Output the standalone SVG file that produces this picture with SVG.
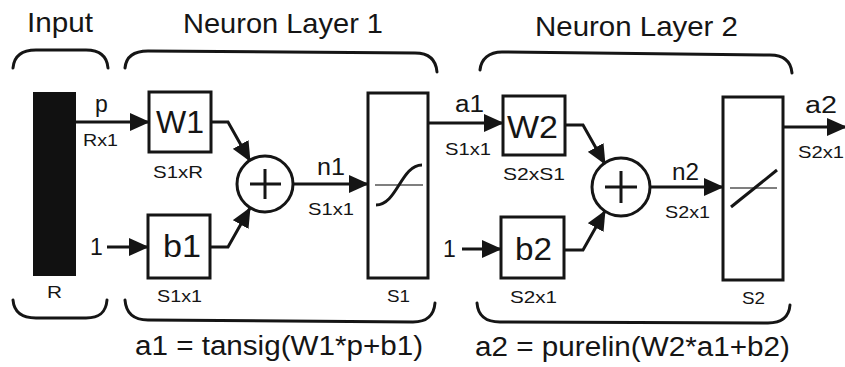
<svg xmlns="http://www.w3.org/2000/svg" width="845" height="367" viewBox="0 0 845 367">
<defs>
<style>
text{font-family:"Liberation Sans",Arial,sans-serif;fill:#151515}
.t{font-size:28px}
.f{font-size:27px}
.s{font-size:17px}
.m{font-size:23px}
.b{font-size:32px}
.box{fill:#fff;stroke:#151515;stroke-width:3}
.ln{fill:none;stroke:#151515;stroke-width:3}
.br{fill:none;stroke:#151515;stroke-width:3;stroke-linecap:round}
.thin{stroke:#555;stroke-width:1.3}
.arr{fill:none;stroke:#151515;stroke-width:3;marker-end:url(#ah)}
</style>
<marker id="ah" viewBox="0 0 20 18" refX="19" refY="9" markerWidth="20" markerHeight="18" markerUnits="userSpaceOnUse" orient="auto">
<path d="M0,0 L20,9 L0,18 Z" fill="#151515"/>
</marker>
</defs>
<rect width="845" height="367" fill="#fff"/>

<g id="brackets">
<path class="br" d="M13,68 C14,56 22,50 36,50 L86,50 C100,50 107,56 108,68"/>
<path class="br" d="M125,68 C126,57 134,51 148,51 L415,53 C429,53 436,60 437,72"/>
<path class="br" d="M480,70 C481,59 489,52 502,52 L770,55 C784,55 791,62 792,73"/>
<path class="br" d="M13,300 C14,312 22,318 36,318 L86,318 C100,318 106,312 107,300"/>
<path class="br" d="M125,300 C126,313 134,320 148,320 L413,322 C427,322 434,315 435,303"/>
<path class="br" d="M477,303 C478,316 486,322 500,322 L768,323 C782,323 789,317 790,305"/>
</g>

<g id="titles">
<text class="t" x="27" y="32" textLength="66" lengthAdjust="spacingAndGlyphs">Input</text>
<text class="t" x="183" y="33" textLength="200" lengthAdjust="spacingAndGlyphs">Neuron Layer 1</text>
<text class="t" x="535" y="36" textLength="203" lengthAdjust="spacingAndGlyphs">Neuron Layer 2</text>
<text class="f" x="135" y="355" textLength="288" lengthAdjust="spacingAndGlyphs">a1 = tansig(W1*p+b1)</text>
<text class="f" x="475" y="356" textLength="315" lengthAdjust="spacingAndGlyphs">a2 = purelin(W2*a1+b2)</text>
</g>

<g id="input">
<rect x="33" y="92" width="43" height="184" fill="#111"/>
<text class="s" x="47" y="298" textLength="15" lengthAdjust="spacingAndGlyphs">R</text>
</g>

<g id="W1">
<rect class="box" x="149" y="92" width="62" height="60"/>
<text class="b" x="156" y="133" textLength="48" lengthAdjust="spacingAndGlyphs">W1</text>
<text class="s" x="153" y="178" textLength="50" lengthAdjust="spacingAndGlyphs">S1xR</text>
</g>

<g id="b1">
<rect class="box" x="148" y="215" width="62" height="63"/>
<text class="b" x="163" y="257" textLength="38" lengthAdjust="spacingAndGlyphs">b1</text>
<text class="s" x="157" y="302" textLength="45" lengthAdjust="spacingAndGlyphs">S1x1</text>
</g>

<g id="sum1">
<circle class="ln" cx="265" cy="184" r="28"/>
<path class="ln" d="M250,184 L281,184 M265,169 L265,199" stroke-width="2"/>
</g>

<g id="tansig">
<rect class="box" x="368" y="93" width="60" height="185"/>
<line class="thin" x1="375" y1="185" x2="423" y2="185"/>
<path class="ln" d="M376,205 C397,205 401,165 422,165"/>
<text class="s" x="387" y="302" textLength="23" lengthAdjust="spacingAndGlyphs">S1</text>
</g>

<g id="W2">
<rect class="box" x="503" y="96" width="62" height="59"/>
<text class="b" x="507" y="138" textLength="51" lengthAdjust="spacingAndGlyphs">W2</text>
<text class="s" x="503" y="180" textLength="62" lengthAdjust="spacingAndGlyphs">S2xS1</text>
</g>

<g id="b2">
<rect class="box" x="501" y="217" width="63" height="61"/>
<text class="b" x="515" y="260" textLength="37" lengthAdjust="spacingAndGlyphs">b2</text>
<text class="s" x="510" y="303" textLength="47" lengthAdjust="spacingAndGlyphs">S2x1</text>
</g>

<g id="sum2">
<circle class="ln" cx="621" cy="187" r="29"/>
<path class="ln" d="M605,187 L637,187 M621,171 L621,203" stroke-width="2"/>
</g>

<g id="purelin">
<rect class="box" x="723" y="97" width="60" height="183"/>
<line class="thin" x1="730" y1="188" x2="777" y2="188"/>
<line class="ln" x1="731" y1="207" x2="777" y2="170"/>
<text class="s" x="742" y="304" textLength="23" lengthAdjust="spacingAndGlyphs">S2</text>
</g>

<g id="connectors">
<path class="arr" d="M76,122 L149,122"/>
<path class="arr" d="M107,247 L148,247"/>
<path class="arr" d="M211,122 L228,122 L250,161"/>
<path class="arr" d="M210,247 L228,247 L250,208"/>
<path class="arr" d="M293,184 L368,184"/>
<path class="arr" d="M428,123 L503,123"/>
<path class="arr" d="M462,249 L501,249"/>
<path class="arr" d="M565,125 L583,125 L605,164"/>
<path class="arr" d="M564,250 L583,250 L605,211"/>
<path class="arr" d="M650,187 L723,187"/>
<path class="arr" d="M783,127 L846,127"/>
</g>

<g id="connector-labels">
<text class="m" x="95" y="112">p</text>
<text class="s" x="83" y="146" textLength="35" lengthAdjust="spacingAndGlyphs">Rx1</text>
<text class="m" x="90" y="255">1</text>
<text class="m" x="317" y="175" textLength="28" lengthAdjust="spacingAndGlyphs">n1</text>
<text class="s" x="308" y="215" textLength="46" lengthAdjust="spacingAndGlyphs">S1x1</text>
<text class="m" x="455" y="112" textLength="29" lengthAdjust="spacingAndGlyphs">a1</text>
<text class="s" x="445" y="155" textLength="46" lengthAdjust="spacingAndGlyphs">S1x1</text>
<text class="m" x="443" y="257">1</text>
<text class="m" x="672" y="180" textLength="27" lengthAdjust="spacingAndGlyphs">n2</text>
<text class="s" x="665" y="218" textLength="45" lengthAdjust="spacingAndGlyphs">S2x1</text>
<text class="m" x="805" y="113" textLength="32" lengthAdjust="spacingAndGlyphs">a2</text>
<text class="s" x="798" y="158" textLength="46" lengthAdjust="spacingAndGlyphs">S2x1</text>
</g>
</svg>
